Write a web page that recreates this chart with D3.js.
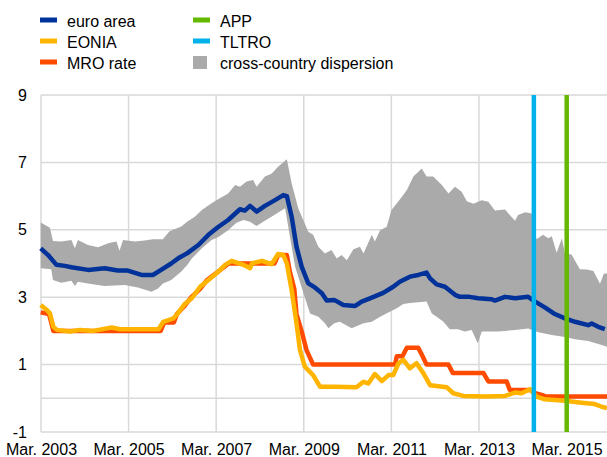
<!DOCTYPE html>
<html>
<head>
<meta charset="utf-8">
<script src="https://cdn.jsdelivr.net/npm/d3@7"></script>
<style>
  body { margin: 0; background: #fff; }
  svg text { font-family: "Liberation Sans", Arial, sans-serif; font-size: 16px; fill: #000; }
</style>
</head>
<body>
<svg width="607" height="457"></svg>
<script>
// time is decimal year, values in %
const euroArea = [
  [2003.16, 4.45], [2003.33, 4.25], [2003.52, 3.96], [2003.71, 3.93], [2003.86, 3.89],
  [2004.24, 3.81], [2004.62, 3.86], [2004.92, 3.79], [2005.15, 3.79], [2005.46, 3.66],
  [2005.72, 3.66], [2005.91, 3.81], [2006.14, 4.0], [2006.33, 4.18], [2006.5, 4.3],
  [2006.76, 4.55], [2006.99, 4.85], [2007.22, 5.09], [2007.44, 5.29], [2007.71, 5.61],
  [2007.82, 5.57], [2007.94, 5.71], [2008.09, 5.54], [2008.28, 5.71], [2008.51, 5.88],
  [2008.7, 6.03], [2008.78, 6.0], [2008.89, 5.39], [2009.0, 4.5], [2009.12, 3.9],
  [2009.27, 3.41], [2009.42, 3.29], [2009.58, 3.12], [2009.69, 2.9], [2009.86, 2.92],
  [2010.07, 2.77], [2010.34, 2.74], [2010.49, 2.87], [2010.72, 2.99], [2010.98, 3.13],
  [2011.21, 3.31], [2011.36, 3.46], [2011.59, 3.61], [2011.78, 3.66], [2011.97, 3.73],
  [2012.05, 3.56], [2012.2, 3.38], [2012.39, 3.31], [2012.62, 3.07], [2012.73, 3.01],
  [2012.95, 3.01], [2013.15, 2.97], [2013.46, 2.94], [2013.53, 2.9], [2013.76, 3.01],
  [2013.99, 2.97], [2014.29, 3.01], [2014.45, 2.87], [2014.67, 2.7], [2014.9, 2.5],
  [2015.13, 2.37], [2015.36, 2.27], [2015.66, 2.17], [2015.74, 2.22], [2015.89, 2.12],
  [2016.04, 2.05]
];

const eonia = [
  [2003.16, 2.77], [2003.3, 2.62], [2003.37, 2.52], [2003.45, 2.12], [2003.53, 2.03],
  [2003.83, 1.98], [2004.06, 2.03], [2004.36, 2.0], [2004.78, 2.1], [2004.97, 2.05],
  [2005.27, 2.05], [2005.85, 2.05], [2005.96, 2.27], [2006.19, 2.37], [2006.29, 2.52],
  [2006.45, 2.8], [2006.61, 2.97], [2006.8, 3.31], [2006.99, 3.51], [2007.22, 3.76],
  [2007.37, 3.96], [2007.52, 4.08], [2007.79, 3.96], [2007.94, 3.86], [2007.98, 4.0],
  [2008.21, 4.08], [2008.43, 3.98], [2008.58, 4.28], [2008.7, 4.25], [2008.78, 4.0],
  [2008.89, 3.21], [2009.0, 2.23], [2009.08, 1.43], [2009.19, 0.94], [2009.38, 0.69],
  [2009.54, 0.34], [2009.86, 0.34], [2010.37, 0.33], [2010.53, 0.49], [2010.64, 0.44],
  [2010.79, 0.72], [2010.95, 0.51], [2011.1, 0.69], [2011.21, 0.69], [2011.33, 1.04],
  [2011.44, 1.14], [2011.59, 0.89], [2011.74, 1.04], [2011.9, 0.74], [2012.05, 0.39],
  [2012.43, 0.33], [2012.58, 0.15], [2012.81, 0.07], [2013.3, 0.05], [2013.76, 0.07],
  [2013.99, 0.17], [2014.14, 0.15], [2014.33, 0.27], [2014.48, 0.05], [2014.67, -0.03],
  [2014.9, -0.05], [2015.13, -0.07], [2015.51, -0.13], [2015.81, -0.17], [2015.97, -0.25],
  [2016.09, -0.29]
];

const mro = [
  [2003.16, 2.55], [2003.35, 2.5], [2003.45, 2.0], [2005.9, 2.0], [2005.98, 2.25],
  [2006.2, 2.25], [2006.27, 2.5], [2006.45, 2.75], [2006.6, 3.0], [2006.8, 3.25],
  [2006.95, 3.5], [2007.2, 3.75], [2007.45, 4.0], [2008.5, 4.0], [2008.58, 4.25],
  [2008.78, 4.25], [2008.85, 3.75], [2008.95, 3.25], [2009.0, 2.5], [2009.12, 1.98],
  [2009.23, 1.43], [2009.38, 1.0], [2011.25, 1.0], [2011.29, 1.25], [2011.42, 1.25],
  [2011.52, 1.5], [2011.78, 1.5], [2011.88, 1.25], [2011.97, 1.0], [2012.47, 1.0],
  [2012.57, 0.75], [2013.27, 0.75], [2013.38, 0.5], [2013.8, 0.5], [2013.87, 0.25],
  [2014.33, 0.25], [2014.45, 0.15], [2014.6, 0.1], [2014.7, 0.05], [2016.09, 0.05]
];

const dispUpper = [
  [2003.16, 5.22], [2003.37, 5.06], [2003.44, 4.67], [2003.63, 4.65], [2003.86, 4.7],
  [2003.94, 4.45], [2004.01, 4.7], [2004.24, 4.55], [2004.47, 4.48], [2004.7, 4.6],
  [2004.89, 4.65], [2004.96, 4.38], [2005.04, 4.7], [2005.31, 4.65], [2005.53, 4.68],
  [2005.72, 4.72], [2005.95, 4.72], [2006.1, 4.96], [2006.37, 5.1], [2006.51, 5.25],
  [2006.68, 5.39], [2006.84, 5.59], [2007.06, 5.79], [2007.21, 5.91], [2007.44, 6.08],
  [2007.6, 6.33], [2007.71, 6.28], [2007.86, 6.43], [2008.01, 6.48], [2008.09, 6.28],
  [2008.28, 6.58], [2008.43, 6.66], [2008.58, 6.87], [2008.78, 7.09], [2008.89, 6.38],
  [2009.04, 5.64], [2009.27, 4.94], [2009.38, 4.85], [2009.5, 4.5], [2009.65, 4.3],
  [2009.8, 4.4], [2009.92, 4.15], [2010.03, 4.25], [2010.15, 4.1], [2010.3, 4.42],
  [2010.45, 4.5], [2010.53, 4.3], [2010.72, 4.85], [2010.79, 4.65], [2010.91, 4.99],
  [2011.06, 5.09], [2011.17, 5.59], [2011.36, 5.9], [2011.52, 6.18], [2011.67, 6.58],
  [2011.86, 6.82], [2011.97, 6.58], [2012.12, 6.58], [2012.32, 6.33], [2012.47, 6.08],
  [2012.62, 6.28], [2012.77, 6.13], [2012.89, 5.85], [2013.04, 5.77], [2013.23, 5.88],
  [2013.38, 5.83], [2013.53, 5.57], [2013.76, 5.6], [2013.87, 5.44], [2013.99, 5.27],
  [2014.06, 5.44], [2014.22, 5.52], [2014.37, 5.48], [2014.48, 4.72], [2014.63, 4.85],
  [2014.75, 4.75], [2014.83, 4.81], [2014.94, 4.32], [2015.06, 4.75], [2015.13, 4.3],
  [2015.28, 4.27], [2015.47, 3.83], [2015.63, 3.82], [2015.78, 3.78], [2015.93, 3.4],
  [2016.02, 3.7], [2016.09, 3.7]
];

const dispLower = [
  [2003.16, 3.86], [2003.4, 3.83], [2003.44, 3.51], [2003.63, 3.43], [2003.86, 3.49],
  [2003.94, 3.33], [2004.01, 3.46], [2004.24, 3.41], [2004.62, 3.33], [2005.08, 3.36],
  [2005.38, 3.29], [2005.69, 3.16], [2005.84, 3.26], [2005.95, 3.41], [2006.14, 3.51],
  [2006.37, 3.76], [2006.51, 3.96], [2006.61, 4.15], [2006.84, 4.45], [2007.06, 4.7],
  [2007.21, 4.78], [2007.44, 4.99], [2007.63, 5.21], [2007.79, 5.29], [2007.94, 5.24],
  [2008.09, 5.11], [2008.24, 5.24], [2008.43, 5.39], [2008.62, 5.54], [2008.74, 5.64],
  [2008.85, 4.8], [2008.97, 3.9], [2009.16, 3.12], [2009.31, 2.52], [2009.5, 2.42],
  [2009.65, 2.23], [2009.73, 2.08], [2009.86, 2.23], [2009.99, 2.27], [2010.26, 2.08],
  [2010.53, 2.23], [2010.72, 2.27], [2010.91, 2.42], [2011.13, 2.57], [2011.29, 2.67],
  [2011.44, 2.8], [2011.59, 2.83], [2011.78, 2.85], [2011.97, 2.87], [2012.09, 2.52],
  [2012.2, 2.42], [2012.35, 2.28], [2012.5, 2.05], [2012.69, 2.05], [2012.84, 1.98],
  [2013.0, 2.03], [2013.14, 1.63], [2013.23, 1.98], [2013.61, 1.98], [2013.99, 2.03],
  [2014.29, 2.07], [2014.52, 1.96], [2014.83, 1.88], [2015.13, 1.82], [2015.36, 1.75],
  [2015.66, 1.7], [2015.97, 1.58], [2016.09, 1.53]
];

const tltroDate = 2014.42;
const appDate = 2015.17;

const xTickYears = [2003, 2005, 2007, 2009, 2011, 2013, 2015];
const yGridValues = [9, 7, 5, 3, 1, 0, -1];
const yLabelValues = [9, 7, 5, 3, 1, -1];

const legendLeft = [
  { label: "euro area", color: "#003299", kind: "line" },
  { label: "EONIA", color: "#ffb400", kind: "line" },
  { label: "MRO rate", color: "#ff4b00", kind: "line" }
];
const legendRight = [
  { label: "APP", color: "#65b800", kind: "line" },
  { label: "TLTRO", color: "#00b1ea", kind: "line" },
  { label: "cross-country dispersion", color: "#aaaaaa", kind: "box" }
];

const svg = d3.select("svg");
const x = d3.scaleLinear().domain([2003.167, 2016.09]).range([41, 607]);
const y = d3.scaleLinear().domain([-1, 9]).range([432, 95]);
const mar = yr => yr + 2 / 12;

// grid
const grid = svg.append("g").attr("stroke", "#d9d9d9").attr("stroke-width", 1.5);
grid.selectAll(".hg").data(yGridValues).join("line")
  .attr("x1", x.range()[0]).attr("x2", x.range()[1])
  .attr("y1", d => y(d)).attr("y2", d => y(d));
grid.selectAll(".vg").data(xTickYears).join("line")
  .attr("x1", d => x(mar(d))).attr("x2", d => x(mar(d)))
  .attr("y1", y(9)).attr("y2", y(-1));

// axes labels
svg.append("g").attr("transform", `translate(${x.range()[0]},0)`)
  .call(d3.axisLeft(y).tickValues(yLabelValues).tickSize(0).tickPadding(14).tickFormat(d => String(d)))
  .call(g => g.select(".domain").remove())
  .selectAll("text").style("font-size", "16px").attr("fill", "#000");

svg.append("g").attr("transform", `translate(0,${y(-1)})`)
  .call(d3.axisBottom(x).tickValues(xTickYears.map(mar)).tickSize(0).tickPadding(11.5)
    .tickFormat(d => "Mar. " + Math.round(d - 2 / 12)))
  .call(g => g.select(".domain").remove())
  .selectAll("text").style("font-size", "16px").attr("fill", "#000");

// dispersion band
const band = dispUpper.concat(dispLower.slice().reverse());
svg.append("path")
  .attr("d", d3.line().x(d => x(d[0])).y(d => y(d[1])).curve(d3.curveLinearClosed)(band))
  .attr("fill", "#aaaaaa");

const line = d3.line().x(d => x(d[0])).y(d => y(d[1]));
[[euroArea, "#003299"], [mro, "#ff4b00"], [eonia, "#ffb400"]].forEach(([data, color]) => {
  svg.append("path")
    .attr("d", line(data))
    .attr("fill", "none")
    .attr("stroke", color)
    .attr("stroke-width", 4.5)
    .attr("stroke-linejoin", "round");
});

// policy markers
[[tltroDate, "#00b1ea"], [appDate, "#65b800"]].forEach(([t, color]) => {
  svg.append("line")
    .attr("x1", x(t)).attr("x2", x(t))
    .attr("y1", y(9)).attr("y2", y(-1))
    .attr("stroke", color).attr("stroke-width", 4.5);
});

// legend
function drawLegend(items, x0) {
  const g = svg.append("g");
  items.forEach((d, i) => {
    const base = 26.5 + i * 21;
    if (d.kind === "box") {
      g.append("rect").attr("x", x0).attr("y", base - 12.5).attr("width", 14).attr("height", 13).attr("fill", d.color);
    } else {
      g.append("rect").attr("x", x0).attr("y", base - 9).attr("width", 17).attr("height", 5).attr("fill", d.color);
    }
    g.append("text").attr("x", x0 + 27).attr("y", base).text(d.label);
  });
}
drawLegend(legendLeft, 40);
drawLegend(legendRight, 193);
</script>
</body>
</html>
